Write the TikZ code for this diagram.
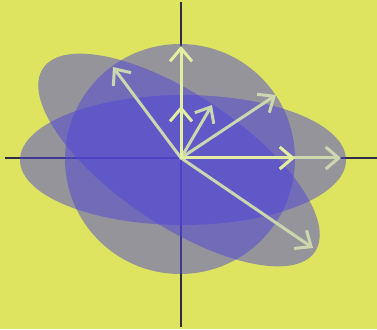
\documentclass[tikz,border=0pt]{standalone}
\usetikzlibrary{arrows.meta}
\definecolor{bgyellow}{RGB}{222,228,96}
\definecolor{blobblue}{RGB}{80,70,214}
\definecolor{vecbright}{RGB}{228,238,160}
\definecolor{vecpale}{RGB}{205,215,175}
\definecolor{axisdark}{RGB}{45,45,70}
\begin{document}
\begin{tikzpicture}[x=1pt, y=1pt,
    blob/.style={fill=blobblue, fill opacity=0.5},
    vec/.style={line width=3pt, line cap=round, -{Straight Barb[length=13pt, width=22pt, line width=3pt]}}]
    \fill[bgyellow] (-181,-171) rectangle (196,158);
    \useasboundingbox (-181,-171) rectangle (196,158);
    \coordinate (O) at (0,0);
    % axes
    \draw[axisdark, line width=1.4pt] (-176,0) -- (196,0);
    \draw[axisdark, line width=1.4pt] (0,-169) -- (0,156);
    % the three ellipses
    \fill[blob] (2,-2) ellipse [x radius=163, y radius=65];
    \fill[blob] (-1,-1) circle [radius=115];
    \fill[blob, rotate around={-34:(-2,-2)}] (-2,-2) ellipse [x radius=164, y radius=65];
    % vectors
    \coordinate (up1) at (0,52);
    \coordinate (up2) at (0,112);
    \coordinate (rt1) at (114,0);
    \coordinate (rt2) at (160,0);
    \coordinate (d1) at (31,53);
    \coordinate (d2) at (95,63);
    \coordinate (ul) at (-68,91);
    \coordinate (lr) at (132,-90);
    \draw[vec, vecpale] (O) -- (rt2);
    \draw[vec, vecpale] (O) -- (d2);
    \draw[vec, vecpale] (O) -- (ul);
    \draw[vec, vecpale] (O) -- (lr);
    \draw[vec, vecpale] (O) -- (d1);
    \draw[vec, vecbright] (O) -- (up2);
    \draw[vec, vecbright] (O) -- (up1);
    \draw[vec, vecbright] (O) -- (rt1);
\end{tikzpicture}
\end{document}
